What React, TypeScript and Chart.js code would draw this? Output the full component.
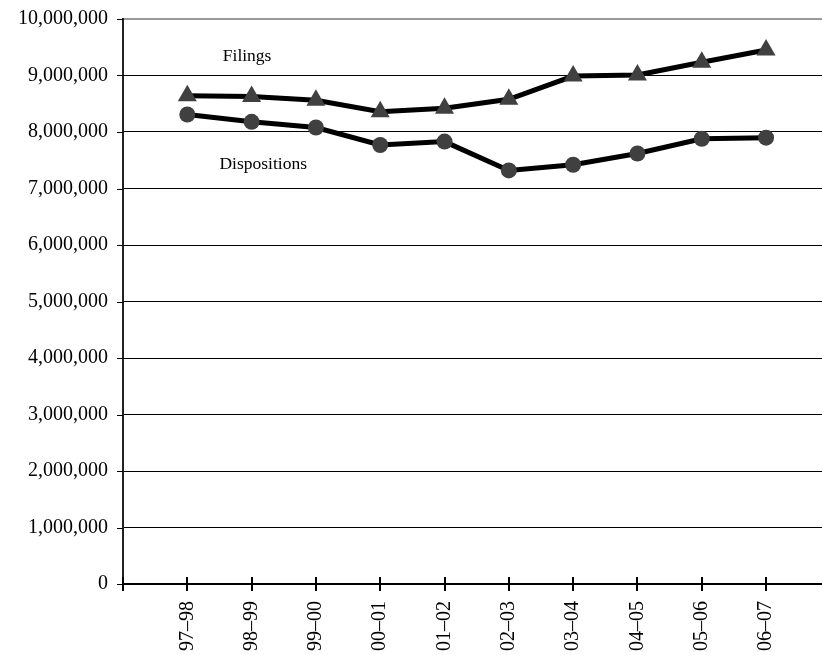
import React, { useEffect, useRef } from 'react';
import { Chart, registerables } from 'chart.js';

Chart.register(...registerables);

const periods = ['97–98', '98–99', '99–00', '00–01', '01–02', '02–03', '03–04', '04–05', '05–06', '06–07'];
const filings = [8640000, 8630000, 8560000, 8360000, 8420000, 8580000, 8990000, 9010000, 9235000, 9450000];
const dispositions = [8310000, 8180000, 8080000, 7770000, 7830000, 7320000, 7420000, 7620000, 7880000, 7900000];
const yTickValues = [0, 1000000, 2000000, 3000000, 4000000, 5000000, 6000000, 7000000, 8000000, 9000000, 10000000];
const labelNotes = [
  { text: 'Filings', x: 0.93, y: 9330000 },
  { text: 'Dispositions', x: 1.18, y: 7420000 },
];

const FONT = "'Liberation Serif', 'Times New Roman', serif";

const extrasPlugin = {
  id: 'extras',
  afterDraw(chart: any) {
    const ctx = chart.ctx;
    const xs = chart.scales.x;
    const ys = chart.scales.y;
    const area = chart.chartArea;
    ctx.save();
    ctx.strokeStyle = '#000';
    ctx.lineWidth = 2;
    for (let i = -1; i < periods.length; i++) {
      const px = Math.round(xs.getPixelForValue(i));
      ctx.beginPath();
      ctx.moveTo(px, area.bottom - 7);
      ctx.lineTo(px, area.bottom + 7);
      ctx.stroke();
    }
    ctx.lineWidth = 1;
    for (const v of yTickValues) {
      const py = Math.round(ys.getPixelForValue(v)) + 0.5;
      ctx.beginPath();
      ctx.moveTo(area.left - 6, py);
      ctx.lineTo(area.left, py);
      ctx.stroke();
    }
    ctx.fillStyle = '#000';
    ctx.font = `17.5px ${FONT}`;
    ctx.textAlign = 'center';
    ctx.textBaseline = 'middle';
    for (const n of labelNotes) {
      ctx.fillText(n.text, xs.getPixelForValue(n.x), ys.getPixelForValue(n.y));
    }
    ctx.restore();
  },
};

const zeroPad = (s: any) => {
  s.paddingTop = 0;
  s.paddingBottom = 0;
  s.paddingLeft = 0;
  s.paddingRight = 0;
};

export default function App() {
  const ref = useRef<HTMLCanvasElement | null>(null);
  useEffect(() => {
    document.body.style.margin = '0';
    const canvas = ref.current!;
    const chart = new Chart(canvas, {
      type: 'line',
      data: {
        datasets: [
          {
            label: 'Filings',
            data: periods.map((_, i) => ({ x: i, y: filings[i] })),
            borderColor: '#000',
            borderWidth: 5,
            pointStyle: 'triangle',
            pointRadius: 11,
            pointBackgroundColor: '#404040',
            pointBorderColor: '#404040',
            pointBorderWidth: 0,
            tension: 0,
          },
          {
            label: 'Dispositions',
            data: periods.map((_, i) => ({ x: i, y: dispositions[i] })),
            borderColor: '#000',
            borderWidth: 5,
            pointStyle: 'circle',
            pointRadius: 8,
            pointBackgroundColor: '#404040',
            pointBorderColor: '#404040',
            pointBorderWidth: 0,
            tension: 0,
          },
        ],
      },
      options: {
        animation: false,
        responsive: false,
        events: [],
        layout: { autoPadding: false, padding: { top: 19, right: 0, left: 0, bottom: 0 } },
        plugins: { legend: { display: false }, tooltip: { enabled: false } },
        scales: {
          x: {
            type: 'linear',
            min: -1,
            max: 9.87,
            afterBuildTicks: (s: any) => {
              s.ticks = periods.map((_, i) => ({ value: i }));
            },
            afterFit: (s: any) => {
              s.height = 71;
              zeroPad(s);
            },
            ticks: {
              autoSkip: false,
              minRotation: 90,
              maxRotation: 90,
              padding: 17,
              color: '#000',
              font: { family: FONT, size: 20 },
              callback: (v: any) => periods[v] ?? '',
            },
            grid: { display: true, drawOnChartArea: false, drawTicks: false },
            border: { display: true, color: '#000', width: 2 },
          },
          y: {
            min: 0,
            max: 10000000,
            afterBuildTicks: (s: any) => {
              s.ticks = yTickValues.map((v) => ({ value: v }));
            },
            afterFit: (s: any) => {
              s.width = 123;
              zeroPad(s);
            },
            ticks: {
              padding: 15,
              color: '#000',
              font: { family: FONT, size: 20 },
              callback: (v: any) => Number(v).toLocaleString('en-US'),
            },
            grid: {
              drawTicks: false,
              color: (c: any) => (c.tick && c.tick.value === 10000000 ? '#999' : '#000'),
              lineWidth: (c: any) => (c.tick && c.tick.value === 10000000 ? 2 : 1),
            },
            border: { display: true, color: '#222', width: 2 },
          },
        },
      },
      plugins: [extrasPlugin],
    });
    return () => chart.destroy();
  }, []);
  return <canvas ref={ref} width={822} height={655} style={{ display: 'block' }} />;
}
